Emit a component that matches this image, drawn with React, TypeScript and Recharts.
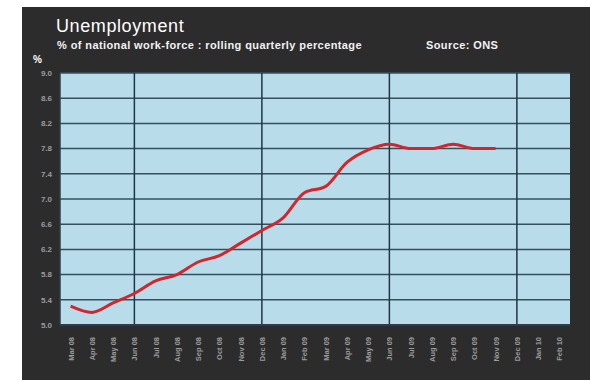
import { LineChart, Line, XAxis, YAxis, CartesianGrid, ReferenceLine } from "recharts";

const months = [
  "Mar 08", "Apr 08", "May 08", "Jun 08", "Jul 08", "Aug 08",
  "Sep 08", "Oct 08", "Nov 08", "Dec 08", "Jan 09", "Feb 09",
  "Mar 09", "Apr 09", "May 09", "Jun 09", "Jul 09", "Aug 09",
  "Sep 09", "Oct 09", "Nov 09", "Dec 09", "Jan 10", "Feb 10",
];

const rate: (number | null)[] = [
  5.3, 5.2, 5.35, 5.5, 5.7, 5.8,
  6.0, 6.1, 6.3, 6.5, 6.7, 7.1,
  7.2, 7.58, 7.78, 7.87, 7.8, 7.8,
  7.87, 7.8, 7.8, null, null, null,
];

const yTicks = [5.0, 5.4, 5.8, 6.2, 6.6, 7.0, 7.4, 7.8, 8.2, 8.6, 9.0];

// half-year markers drawn as darker vertical lines
const halfYears = ["Jun 08", "Dec 08", "Jun 09", "Dec 09"];

const data = months.map((m, i) => ({ month: m, rate: rate[i] }));

const MonthTick = (props: any) => {
  const { x, y, payload } = props;
  return (
    <text
      x={x + 3}
      y={y + 4}
      transform={`rotate(-90 ${x + 3} ${y + 4})`}
      textAnchor="end"
      fontSize={7.5}
      fontWeight="bold"
      fill="#9c9c9c"
    >
      {payload.value}
    </text>
  );
};

export default function App() {
  return (
    <div
      style={{
        position: "absolute",
        left: 0,
        top: 0,
        width: 590,
        height: 381,
        background: "#fff",
        fontFamily: "'Liberation Sans', Arial, sans-serif",
      }}
    >
      <div
        style={{
          position: "absolute",
          left: 22,
          top: 7,
          width: 568,
          height: 373,
          background: "#2c2c2c",
        }}
      />
      <div style={{ position: "absolute", left: 56, top: 16, color: "#fff", fontSize: 18, letterSpacing: 0.6 }}>
        Unemployment
      </div>
      <div style={{ position: "absolute", left: 57, top: 39, color: "#f2f2f2", fontSize: 11, fontWeight: "bold", letterSpacing: 0.4 }}>
        % of national work-force : rolling quarterly percentage
      </div>
      <div style={{ position: "absolute", left: 426, top: 39, color: "#f2f2f2", fontSize: 11, fontWeight: "bold", letterSpacing: 0.4 }}>
        Source: ONS
      </div>
      <div style={{ position: "absolute", left: 33, top: 54, color: "#fff", fontSize: 10, fontWeight: "bold" }}>
        %
      </div>
      <div style={{ position: "absolute", left: 0, top: 0 }}>
        <LineChart
          width={590}
          height={381}
          data={data}
          margin={{ top: 73, right: 20, left: 0, bottom: 26 }}
        >
          <CartesianGrid
            vertical={false}
            fill="#b8dcea"
            fillOpacity={1}
            stroke="#34505f"
            strokeWidth={1.5}
          />
          {halfYears.map((m) => (
            <ReferenceLine key={m} x={m} stroke="#1f3644" strokeWidth={1.5} />
          ))}
          <XAxis
            dataKey="month"
            scale="band"
            interval={0}
            height={30}
            tick={<MonthTick />}
            tickLine={false}
            axisLine={{ stroke: "#2a3f4b", strokeWidth: 2 }}
          />
          <YAxis
            width={60}
            domain={[5, 9]}
            ticks={yTicks}
            tickFormatter={(v: number) => v.toFixed(1)}
            tick={{ fontSize: 8, fill: "#9c9c9c", fontWeight: "bold" }}
            tickLine={false}
            axisLine={{ stroke: "#2a3f4b", strokeWidth: 1.5 }}
          />
          <Line
            type="monotone"
            dataKey="rate"
            stroke="#d3262c"
            strokeWidth={3}
            dot={false}
            isAnimationActive={false}
          />
        </LineChart>
      </div>
    </div>
  );
}
